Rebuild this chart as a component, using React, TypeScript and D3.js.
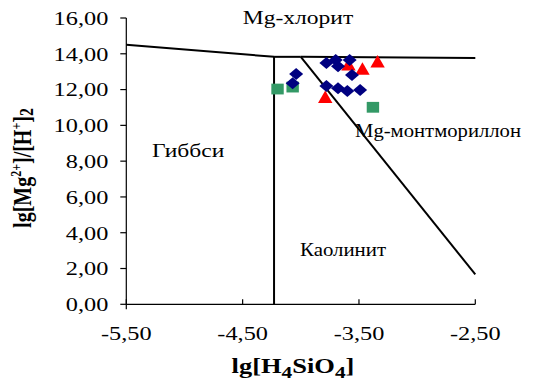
import React from "react";
import * as d3 from "d3";

// Tick values
const xTicks = [-5.5, -4.5, -3.5, -2.5];
const yTicks = [0, 2, 4, 6, 8, 10, 12, 14, 16];

// Phase boundaries: [lg H4SiO4, lg(Mg2+/H+^2)]
const gibbsiteChlorite: [number, number][] = [[-5.5, 14.5], [-4.23, 13.83]];
const gibbsiteKaolinite: [number, number][] = [[-4.23, 0], [-4.23, 13.83]];
const kaoliniteChlorite: [number, number][] = [[-4.23, 13.83], [-4.0, 13.83]];
const montmorilloniteChlorite: [number, number][] = [[-4.0, 13.83], [-2.5, 13.77]];
const kaoliniteMontmorillonite: [number, number][] = [[-4.0, 13.83], [-2.5, 1.67]];

// Water samples
const squarePoints: [number, number][] = [[-4.2, 12.03], [-4.07, 12.14], [-3.38, 11.01]];
const trianglePoints: [number, number][] = [[-3.79, 11.56], [-3.47, 13.14], [-3.34, 13.54], [-3.59, 13.37]];
const diamondPoints: [number, number][] = [
  [-4.04, 12.87], [-4.07, 12.35],
  [-3.78, 13.48], [-3.7, 13.65], [-3.68, 13.31], [-3.58, 13.65], [-3.56, 12.81],
  [-3.78, 12.2], [-3.68, 12.07], [-3.6, 11.92], [-3.49, 11.97],
];

// Phase field names
const fieldNames = ["Mg-хлорит", "Гиббси", "Mg-монтмориллон", "Каолинит"];

const W = 551;
const H = 383;
const SX = 1.24; // horizontal text stretch
const FONT = "'Times New Roman', 'Liberation Serif', serif";
const FS = 19;

const fmt = d3.formatLocale({ decimal: ",", thousands: " ", grouping: [3], currency: ["", ""], minus: "-" }).format(".2f");

export default function App() {
  const x = d3.scaleLinear().domain([-5.5, -2.5]).range([126.3, 475.3]);
  const y = d3.scaleLinear().domain([0, 16]).range([304.3, 18]);
  const line = d3.line<[number, number]>().x((d) => x(d[0])).y((d) => y(d[1]));
  const boundaries = [gibbsiteChlorite, gibbsiteKaolinite, kaoliniteChlorite, montmorilloniteChlorite, kaoliniteMontmorillonite];

  const diamond = (cx: number, cy: number) => `M${cx},${cy - 6}L${cx + 7},${cy}L${cx},${cy + 6}L${cx - 7},${cy}Z`;
  const triangle = (cx: number, cy: number) => `M${cx},${cy - 7}L${cx + 7.2},${cy + 5.5}L${cx - 7.2},${cy + 5.5}Z`;
  const square = (cx: number, cy: number) => `M${cx - 6.2},${cy - 5.4}h12.4v10.8h-12.4Z`;

  const stretched = (px: number, py: number, sx = SX, extra = "") => `translate(${px},${py}) scale(${sx},1)${extra}`;

  return (
    <svg width={W} height={H} style={{ position: "absolute", left: 0, top: 0, background: "#fff" }} fontFamily={FONT}>
      {/* axes */}
      <line x1={x(-5.5)} x2={x(-5.5)} y1={y(16)} y2={y(0) + 5} stroke="#000" strokeWidth={1.2} />
      <line x1={x(-5.5)} x2={x(-2.5)} y1={y(0)} y2={y(0)} stroke="#000" strokeWidth={1.2} />
      {yTicks.map((t) => (
        <g key={"y" + t}>
          <line x1={x(-5.5) - 6} x2={x(-5.5)} y1={y(t)} y2={y(t)} stroke="#000" strokeWidth={1.2} />
          <text transform={stretched(x(-5.5) - 18, y(t), 1.28)} dy="0.36em" textAnchor="end" fontSize={FS}>{fmt(t)}</text>
        </g>
      ))}
      {xTicks.map((t) => (
        <g key={"x" + t}>
          <line x1={x(t)} x2={x(t)} y1={y(0) - 5} y2={y(0)} stroke="#000" strokeWidth={1.2} />
          <text transform={stretched(x(t), 340, 1.28)} textAnchor="middle" fontSize={FS}>{fmt(t)}</text>
        </g>
      ))}

      {/* boundaries */}
      {boundaries.map((b, i) => (
        <path key={"b" + i} d={line(b) ?? ""} fill="none" stroke="#000" strokeWidth={2} />
      ))}

      {/* field names */}
      <text transform={stretched(298, 24)} textAnchor="middle" fontSize={FS}>{fieldNames[0]}</text>
      <text transform={stretched(152, 157)} textAnchor="start" fontSize={FS}>{fieldNames[1]}</text>
      <text transform={stretched(355, 137)} textAnchor="start" fontSize={FS} textLength={166 / SX} lengthAdjust="spacingAndGlyphs">{fieldNames[2]}</text>
      <text transform={stretched(300, 256)} textAnchor="start" fontSize={FS} textLength={86 / SX} lengthAdjust="spacingAndGlyphs">{fieldNames[3]}</text>

      {/* samples */}
      {squarePoints.map((p, i) => (
        <path key={"s" + i} d={square(x(p[0]), y(p[1]))} fill="#339966" />
      ))}
      {trianglePoints.map((p, i) => (
        <path key={"t" + i} d={triangle(x(p[0]), y(p[1]))} fill="#ff0000" />
      ))}
      {diamondPoints.map((p, i) => (
        <path key={"d" + i} d={diamond(x(p[0]), y(p[1]))} fill="#000080" />
      ))}

      {/* axis titles */}
      <text transform={stretched(293, 373, 1.26)} textAnchor="middle" fontSize={21} fontWeight="bold">
        lg[H<tspan fontSize={17} dy={5}>4</tspan><tspan dy={-5}>SiO</tspan><tspan fontSize={17} dy={5}>4</tspan><tspan dy={-5}>]</tspan>
      </text>
      <text transform={stretched(31, 168, SX, " rotate(-90)")} textAnchor="middle" fontSize={20} fontWeight="bold">
        lg[Mg<tspan fontSize={12} dy={-8}>2+</tspan><tspan dy={8}>]/[H</tspan><tspan fontSize={12} dy={-8}>+</tspan><tspan dy={8}>]</tspan><tspan fontSize={16} dy={2}>2</tspan>
      </text>
    </svg>
  );
}
